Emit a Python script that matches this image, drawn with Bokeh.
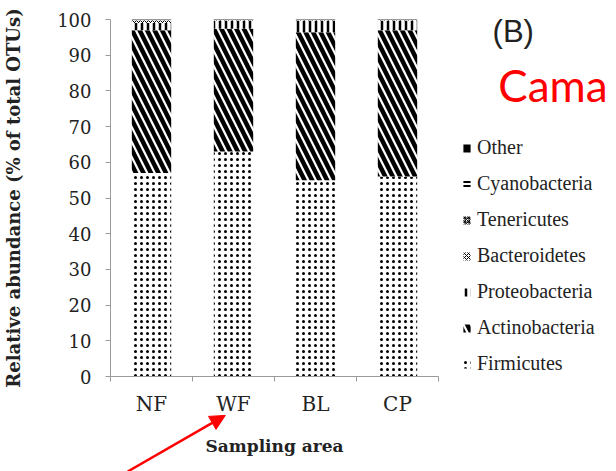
import math
from bokeh.plotting import figure
from bokeh.models import (ColumnDataSource, Range1d, FixedTicker, Legend, LegendItem,
                          Label, Arrow, NormalHead)
from bokeh.embed import file_html
from bokeh.resources import INLINE

# ---------------- data ----------------
sites = ["NF", "WF", "BL", "CP"]
firmicutes = [57.0, 63.0, 55.0, 56.0]
actinobacteria = [40.0, 34.4, 41.4, 41.0]
proteobacteria = [2.0, 2.3, 3.3, 2.7]
bacteroidetes = [0.8, 0.15, 0.15, 0.15]
tenericutes = [0.1, 0.05, 0.05, 0.05]
cyanobacteria = [0.05, 0.05, 0.05, 0.05]
other = [0.05, 0.05, 0.05, 0.05]
phyla = ["Firmicutes", "Actinobacteria", "Proteobacteria", "Bacteroidetes",
         "Tenericutes", "Cyanobacteria", "Other"]
y_ticks = [0, 10, 20, 30, 40, 50, 60, 70, 80, 90, 100]

# ---------------- source ----------------
xpos = [i + 0.5 for i in range(len(sites))]
src = ColumnDataSource(dict(x=xpos, Firmicutes=firmicutes, Actinobacteria=actinobacteria,
                            Proteobacteria=proteobacteria, Bacteroidetes=bacteroidetes,
                            Tenericutes=tenericutes, Cyanobacteria=cyanobacteria, Other=other))

# canvas layout (pixels): plot area 0..4 spans x 110..438, 0..100 spans y 376..19
W, H = 616, 471
x0_px, px_per_cat = 110, 82
y0_px, px_per_unit = 376, 3.57
xr = Range1d(-x0_px / px_per_cat, (W - x0_px) / px_per_cat)
yr = Range1d(-(H - y0_px) / px_per_unit, y0_px / px_per_unit)

p = figure(width=W, height=H, output_backend="svg", toolbar_location=None,
           x_range=xr, y_range=yr, min_border=0,
           min_border_left=0, min_border_right=0, min_border_top=0, min_border_bottom=0)
p.xgrid.visible = False
p.ygrid.visible = False
p.outline_line_color = None
p.background_fill_color = "white"
p.border_fill_color = "white"

patterns = ["dot", "left_diagonal_line", "vertical_line", "diagonal_cross",
            "criss_cross", "horizontal_line", "blank"]
scales = [6, 15, 6, 4, 4, 4, 4]
weights = [1.6, 4.5, 2.5, 1, 1, 2, 1]
fills = ["white", "white", "white", "white", "white", "white", "black"]

rs = p.vbar_stack(phyla, x="x", width=0.48, source=src,
                  fill_color=fills, line_color=None,
                  hatch_pattern=patterns, hatch_scale=scales, hatch_weight=weights,
                  hatch_color="black")

# ---------------- axes ----------------
axis_col = "#9a9a9a"
serif = "DejaVu Serif"
txt_col = "#222222"

xa = p.xaxis[0]
xa.fixed_location = 0
xa.bounds = (0, len(sites))
xa.ticker = FixedTicker(ticks=xpos, minor_ticks=list(range(len(sites) + 1)))
xa.major_label_overrides = {v: s for v, s in zip(xpos, sites)}
xa.major_tick_out = 0
xa.major_tick_in = 0
xa.minor_tick_out = 5
xa.minor_tick_in = 0
xa.minor_tick_line_color = axis_col
xa.axis_line_color = axis_col
xa.major_label_standoff = 10
xa.major_label_text_font = serif
xa.major_label_text_font_size = "20px"
xa.major_label_text_color = txt_col

ya = p.yaxis[0]
ya.fixed_location = 0
ya.bounds = (0, 100)
ya.ticker = FixedTicker(ticks=y_ticks)
ya.minor_tick_line_color = None
ya.major_tick_out = 5
ya.major_tick_in = 0
ya.major_tick_line_color = axis_col
ya.axis_line_color = axis_col
ya.major_label_standoff = 14
ya.major_label_text_font = serif
ya.major_label_text_font_size = "18px"
ya.major_label_text_color = txt_col

# axis titles
p.add_layout(Label(x=-97 / px_per_cat, y=50, text="Relative abundance (% of total OTUs)",
                   angle=math.pi / 2, text_align="center", text_baseline="middle",
                   text_font=serif, text_font_style="bold", text_font_size="18px",
                   text_color=txt_col))
p.add_layout(Label(x=len(sites) / 2, y=-19.4, text="Sampling area",
                   text_align="center", text_baseline="middle",
                   text_font=serif, text_font_style="bold", text_font_size="17px",
                   text_color=txt_col))

# ---------------- legend ----------------
items = [LegendItem(label=name, renderers=[r]) for name, r in zip(phyla, rs)][::-1]
leg = Legend(items=items, location=(462, 96), padding=0, margin=0,
             border_line_color=None, background_fill_alpha=0,
             glyph_width=9, glyph_height=10, label_height=20, spacing=13,
             label_standoff=6, label_text_font="Liberation Serif",
             label_text_font_size="20px", label_text_color=txt_col)
p.add_layout(leg, "center")

# ---------------- annotations ----------------
p.add_layout(Label(x=4.66, y=96.6, text="(B)", text_baseline="middle",
                   text_font="Liberation Sans", text_font_size="31px", text_color=txt_col))
p.add_layout(Label(x=4.73, y=81.6, text="Cama", text_baseline="middle",
                   text_font="Lato", text_font_size="44px", text_color="#ff0000"))
p.add_layout(Arrow(x_start=0.21, y_start=yr.start, x_end=1.40, y_end=-10.9,
                   line_color="#ff0000", line_width=2.5,
                   end=NormalHead(size=15, fill_color="#ff0000", line_color="#ff0000")))

open("out.html", "w").write(file_html(p, INLINE))
